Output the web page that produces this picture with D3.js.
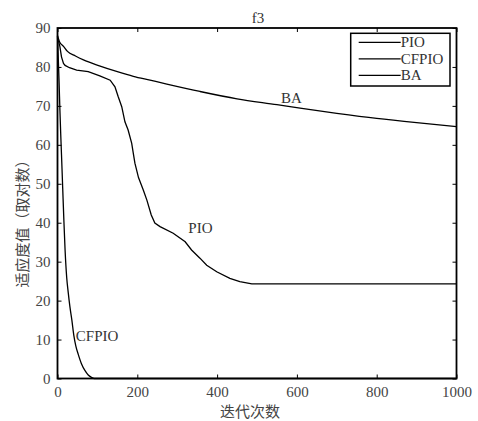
<!DOCTYPE html>
<html>
<head>
<meta charset="utf-8">
<script src="https://cdn.jsdelivr.net/npm/d3@7"></script>
<style>
    body { margin: 0; background: #fff; }
    .axis text { font-family: "Liberation Serif", serif; font-size: 15px; fill: #444; }
    .axis path, .axis line { stroke: #000; }
    .curve { fill: none; stroke: #000; stroke-width: 1.3; }
    .lbl { font-family: "Liberation Serif", serif; font-size: 15px; fill: #333; }
    .cn { font-family: "Noto Sans CJK SC", sans-serif; font-size: 15px; fill: #444; }
</style>
</head>
<body>
<svg id="chart" width="478" height="421"></svg>
<script>
    // iterations (x) and fitness values (y)
    var baIter  = [0, 5, 15, 25, 45, 65, 105, 150, 190, 232, 274, 357, 450, 550, 608, 700, 800, 900, 1000];
    var baVal   = [88, 86.5, 85.3, 84, 82.8, 81.8, 80.3, 78.8, 77.6, 76.6, 75.6, 73.7, 71.8, 70.3, 69.4, 68.1, 66.8, 65.7, 64.7];

    var pioIter = [0, 3, 6, 10, 15, 19, 30, 48, 77, 106, 132, 144, 152, 161, 169, 177, 186, 190, 194, 203, 215, 224, 235, 244, 257, 290, 320, 336, 357, 374, 399, 432, 457, 487, 1000];
    var pioVal  = [87, 86.5, 85.2, 82.6, 80.9, 80.4, 79.8, 79.2, 78.8, 77.7, 76.6, 74.9, 72.4, 69.8, 65.9, 63.8, 60.4, 57.8, 55.3, 51.6, 48.4, 45.8, 42, 39.9, 39, 37.3, 35.1, 33, 30.9, 29.1, 27.4, 25.7, 24.9, 24.3, 24.3];

    var cfIter  = [0, 2, 4, 6, 8, 10, 13, 16, 19, 23, 27, 31, 36, 41, 46, 52, 60, 69, 77, 85, 92, 1000];
    var cfVal   = [88, 82, 76, 69, 63, 57.5, 49, 40.5, 33, 26, 22, 18.5, 15, 11, 8.3, 6.2, 3.8, 2, 0.9, 0.3, 0, 0];

    var xTicks = [0, 200, 400, 600, 800, 1000];
    var yTicks = [0, 10, 20, 30, 40, 50, 60, 70, 80, 90];
    var seriesNames = ["PIO", "CFPIO", "BA"];

    var margin = { top: 28, bottom: 42.5, left: 57.5, right: 21.5 };

    var svg = d3.select("#chart");
    var w = +svg.attr("width");
    var h = +svg.attr("height");
    var width = w - margin.left - margin.right;
    var height = h - margin.top - margin.bottom;

    var chart = svg.append("g")
        .attr("transform", "translate(" + margin.left + "," + margin.top + ")");

    var x = d3.scaleLinear().domain([0, 1000]).range([0, width]);
    var y = d3.scaleLinear().domain([0, 90]).range([height, 0]);

    // axes, ticks pointing inward like matlab
    chart.append("g")
        .classed("axis", true)
        .attr("transform", "translate(0," + height + ")")
        .call(d3.axisBottom(x).tickValues(xTicks).tickSize(-4).tickPadding(8).tickFormat(d3.format("d")))
        .call(function(g){ g.select(".domain").remove(); });

    chart.append("g")
        .classed("axis", true)
        .call(d3.axisLeft(y).tickValues(yTicks).tickSize(-4).tickPadding(7))
        .call(function(g){ g.select(".domain").remove(); });

    chart.append("g")
        .classed("axis", true)
        .call(d3.axisTop(x).tickValues(xTicks).tickSize(-4).tickFormat(""))
        .call(function(g){ g.select(".domain").remove(); });

    chart.append("g")
        .classed("axis", true)
        .attr("transform", "translate(" + width + ",0)")
        .call(d3.axisRight(y).tickValues(yTicks).tickSize(-4).tickFormat(""))
        .call(function(g){ g.select(".domain").remove(); });

    // curves (PIO kept linear so it stays a bit jagged)
    var line = d3.line()
        .x(function(d){ return x(d[0]); })
        .y(function(d){ return y(d[1]); });

    var smooth = d3.line()
        .curve(d3.curveMonotoneX)
        .x(function(d){ return x(d[0]); })
        .y(function(d){ return y(d[1]); });

    var curves = [
        { pts: d3.zip(pioIter, pioVal), gen: line },
        { pts: d3.zip(cfIter, cfVal), gen: smooth },
        { pts: d3.zip(baIter, baVal), gen: smooth }
    ];

    chart.selectAll(".curve")
        .data(curves)
        .enter()
        .append("path")
        .classed("curve", true)
        .attr("d", function(d){ return d.gen(d.pts); });

    // frame
    chart.append("rect")
        .attr("width", width)
        .attr("height", height)
        .attr("fill", "none")
        .attr("stroke", "#000")
        .attr("stroke-width", 1.8);

    // text near the curves
    chart.append("text").classed("lbl", true)
        .attr("x", x(560)).attr("y", y(70.7)).text("BA");
    chart.append("text").classed("lbl", true)
        .attr("x", x(328)).attr("y", y(37.3)).text("PIO");
    chart.append("text").classed("lbl", true)
        .attr("x", x(46)).attr("y", y(9.6)).text("CFPIO");

    // legend
    var legend = chart.append("g")
        .attr("transform", "translate(" + (350.7 - margin.left) + "," + (33.3 - margin.top) + ")");

    legend.append("rect")
        .attr("width", 99.3)
        .attr("height", 52.7)
        .attr("fill", "#fff")
        .attr("stroke", "#000")
        .attr("stroke-width", 1.5);

    var rows = legend.selectAll(".row")
        .data(seriesNames)
        .enter()
        .append("g")
        .attr("transform", function(d, i){ return "translate(0," + (9 + i * 16.5) + ")"; });

    rows.append("line")
        .attr("x1", 8).attr("x2", 50)
        .attr("stroke", "#000").attr("stroke-width", 1.3);

    rows.append("text")
        .classed("lbl", true)
        .attr("x", 50)
        .attr("y", 5)
        .text(function(d){ return d; });

    // title and axis labels
    svg.append("text").classed("lbl", true)
        .attr("x", 258).attr("y", 23)
        .attr("text-anchor", "middle")
        .text("f3");

    svg.append("text").classed("cn", true)
        .attr("x", 250).attr("y", 417)
        .attr("text-anchor", "middle")
        .text("迭代次数");

    svg.append("text").classed("cn", true)
        .attr("text-anchor", "middle")
        .attr("transform", "translate(28,220) rotate(-90)")
        .text("适应度值（取对数）");
</script>
</body>
</html>
